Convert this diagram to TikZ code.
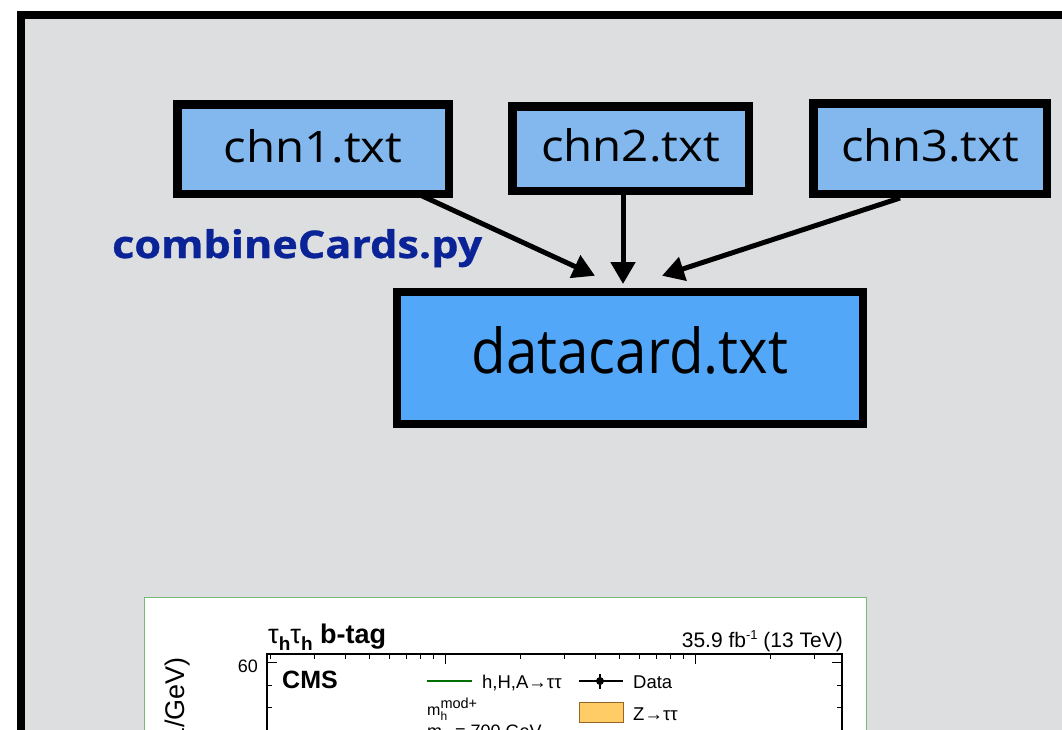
\documentclass[tikz,border=0pt]{standalone}
\usepackage{fontspec}
\setmainfont{Open Sans}
\newfontfamily\plotfont{Liberation Sans}
\newfontfamily\cmdfont{Open Sans}[FakeBold=0.8]
\usetikzlibrary{arrows.meta,calc}
\definecolor{bggrey}{RGB}{221,222,224}
\definecolor{chnblue}{RGB}{130,184,238}
\definecolor{dcblue}{RGB}{82,167,249}
\definecolor{cmdblue}{RGB}{10,35,150}
\definecolor{framegreen}{RGB}{120,185,120}
\definecolor{zorange}{RGB}{255,204,102}
\definecolor{zedge}{RGB}{150,100,40}
\definecolor{hgreen}{RGB}{0,110,0}
\newcommand{\fittxt}[3]{\resizebox{#1}{#2}{#3}}
\newcommand{\px}[1]{\fontsize{#1}{#1}\selectfont}
\begin{document}
\begin{tikzpicture}[x=1pt,y=-1pt,
  chnbox/.style={draw=black,line width=8.5pt,fill=chnblue,inner sep=0pt,
    text height=33pt,text depth=7pt,font=\px{40}},
  dcbox/.style={draw=black,line width=8pt,fill=dcblue,inner sep=0pt,
    text height=47pt,text depth=17pt,font=\px{56}},
  flow/.style={line width=5pt,-{Triangle[length=22pt,width=24pt]}},
  ptxt/.style={inner sep=0pt,font=\plotfont\px{18.5}},
  axisln/.style={line width=1.4pt,black},
  tick/.style={line width=1pt,black}]
\useasboundingbox (0,0) rectangle (1062,729);
\clip (0,0) rectangle (1062,729);
\fill[white] (0,0) rectangle (1062,729);
% slide frame
\draw[line width=8pt,fill=bggrey] (21,14.5) rectangle (1120,800);
% boxes
\node[chnbox,minimum width=271.5pt,minimum height=89.5pt] (chn1) at (313,149) {\fittxt{179pt}{33pt}{chn1.txt}};
\node[chnbox,minimum width=236.5pt,minimum height=84.5pt] (chn2) at (630.5,148.5) {\fittxt{179pt}{33pt}{chn2.txt}};
\node[chnbox,minimum width=233.5pt,minimum height=90.5pt] (chn3) at (930,148.5) {\fittxt{178pt}{33pt}{chn3.txt}};
\node[dcbox,minimum width=466pt,minimum height=132pt] (datacard) at (630,358) {\fittxt{317pt}{47pt}{datacard.txt}};
\node[anchor=base west,inner sep=0pt,text=cmdblue,font=\cmdfont\bfseries\px{40}] (cmd) at (112,258) {\fittxt{370pt}{29pt}{combineCards.py}};
% arrows
\draw[flow] ($(chn1.south)+(105,-4)$) -- ($(datacard.north)+(-35,-12.25)$);
\draw[flow] ($(chn2.south)+(-7.5,-6)$) -- ($(datacard.north)+(-7,-4)$);
\draw[flow] ($(chn3.south)+(-30,0)$) -- ($(datacard.north)+(32,-12.25)$);
% embedded plot
\draw[framegreen,line width=1pt,fill=white] (144.5,597.5) rectangle (866,760);
\draw[axisln] (267,760) -- (267,654) -- (842,654) -- (842,760);
\foreach \v in {20,30,40,50,60,70,80,90,200,300,400,500,600,700,800,900,2000,3000}{
  \pgfmathsetmacro\X{445+250*log10(\v/100)}
  \draw[tick] (\X,654) -- (\X,659);}
\foreach \X in {445,695}{\draw[tick] (\X,654) -- (\X,664);}
\foreach \Y in {685,707.5}{\draw[tick] (267,\Y) -- (272,\Y); \draw[tick] (842,\Y) -- (837,\Y);}
\draw[tick] (267,662) -- (277,662); \draw[tick] (842,662) -- (832,662);
\node[ptxt,anchor=base west,font=\plotfont\px{27}] (title) at (268,643)
  {τ\raisebox{-7pt}{\bfseries\px{19}h}τ\raisebox{-7pt}{\bfseries\px{19}h} \bfseries b-tag};
\node[ptxt,anchor=base east,font=\plotfont\px{21}] (lumi) at (843,647)
  {35.9 fb\raisebox{8pt}{\px{13}-1} (13 TeV)};
\node[ptxt,anchor=base east,font=\plotfont\px{18}] (ylab60) at (258,672) {60};
\node[ptxt,anchor=base west,font=\plotfont\bfseries\px{25}] (cms) at (282,688) {CMS};
\node[ptxt,anchor=base east,rotate=90,font=\plotfont\px{27}] (ytitle) at (184,657) {dN/dm (1/GeV)};
% legend
\coordinate (lg1) at (427,681);
\coordinate (lg2) at (472,681);
\draw[hgreen,line width=2pt] (lg1) -- (lg2);
\node[ptxt,anchor=base west] (lh) at (482,688) {h,H,A→ττ};
\coordinate (ld1) at (579,681);
\coordinate (ld2) at (623,681);
\draw[line width=1.2pt] (ld1) -- (ld2);
\draw[line width=1.2pt] (600,674) -- (600,689);
\fill (600,681) circle (4);
\node[ptxt,anchor=base west] (ldata) at (633,688) {Data};
\node[ptxt,anchor=base west,font=\plotfont\px{16}] (lmh) at (427,715)
  {m\rlap{\raisebox{-5pt}{\px{12}h}}\raisebox{7pt}{\px{14.5}mod+}};
\draw[zedge,line width=1pt,fill=zorange] (579,702) rectangle (623,722);
\node[ptxt,anchor=base west] (lz) at (633,720) {Z→ττ};
\node[ptxt,anchor=base west,font=\plotfont\px{18}] (lma) at (427,737)
  {m\raisebox{-4pt}{\px{12}A} = 700 GeV};
\end{tikzpicture}
\end{document}
